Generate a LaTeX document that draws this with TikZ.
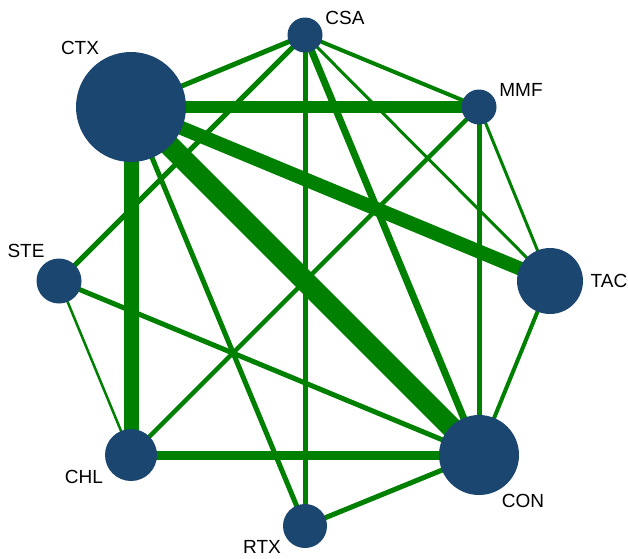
\documentclass[tikz,border=0pt]{standalone}
\usepackage{fontspec}
\setmainfont{Liberation Sans}
\usetikzlibrary{backgrounds}
\definecolor{netblue}{RGB}{27,70,112}
\definecolor{netgreen}{RGB}{0,128,0}
\tikzstyle{treat} = [circle,fill=netblue,inner sep=0]
\tikzstyle{tname} = [font=\fontsize{19}{21}\selectfont,inner sep=0]
\tikzstyle{trial} = [-,draw=netgreen]

\begin{document}
\begin{tikzpicture}[x=1pt,y=-1pt]
      \useasboundingbox (0,0) rectangle (628,558);
      % treatments
      \node[treat,minimum size=35pt] (csa) at (305,35) {};
      \node[treat,minimum size=110pt] (ctx) at (131,107) {};
      \node[treat,minimum size=35pt] (mmf) at (479,107) {};
      \node[treat,minimum size=45pt] (ste) at (59,281) {};
      \node[treat,minimum size=66pt] (tac) at (550,281) {};
      \node[treat,minimum size=52pt] (chl) at (131,455) {};
      \node[treat,minimum size=80pt] (con) at (479,455) {};
      \node[treat,minimum size=44pt] (rtx) at (305,526) {};
      \node[tname] (csal) at (345,18) {CSA};
      \node[tname] (ctxl) at (80,48) {CTX};
      \node[tname] (mmfl) at (521,90) {MMF};
      \node[tname] (stel) at (26,251) {STE};
      \node[tname] (tacl) at (609,281) {TAC};
      \node[tname] (chll) at (84,477) {CHL};
      \node[tname] (conl) at (523,501) {CON};
      \node[tname] (rtxl) at (262,547) {RTX};
      % comparisons
      \begin{scope}[on background layer]
      \draw[trial,line width=5pt] (ctx.center) -- (csa.center);
      \draw[trial,line width=12pt] (ctx.center) -- (mmf.center);
      \draw[trial,line width=14pt] (ctx.center) -- (tac.center);
      \draw[trial,line width=21pt] (ctx.center) -- (con.center);
      \draw[trial,line width=15pt] (ctx.center) -- (chl.center);
      \draw[trial,line width=5pt] (ctx.center) -- (rtx.center);
      \draw[trial,line width=4pt] (csa.center) -- (mmf.center);
      \draw[trial,line width=3pt] (csa.center) -- (tac.center);
      \draw[trial,line width=7pt] (csa.center) -- (con.center);
      \draw[trial,line width=5pt] (csa.center) -- (rtx.center);
      \draw[trial,line width=5pt] (csa.center) -- (ste.center);
      \draw[trial,line width=3pt] (mmf.center) -- (tac.center);
      \draw[trial,line width=5pt] (mmf.center) -- (con.center);
      \draw[trial,line width=4.5pt] (mmf.center) -- (chl.center);
      \draw[trial,line width=4pt] (tac.center) -- (con.center);
      \draw[trial,line width=2.5pt] (ste.center) -- (chl.center);
      \draw[trial,line width=5pt] (ste.center) -- (con.center);
      \draw[trial,line width=9pt] (chl.center) -- (con.center);
      \draw[trial,line width=5pt] (rtx.center) -- (con.center);
      \end{scope}
    \end{tikzpicture}
\end{document}
